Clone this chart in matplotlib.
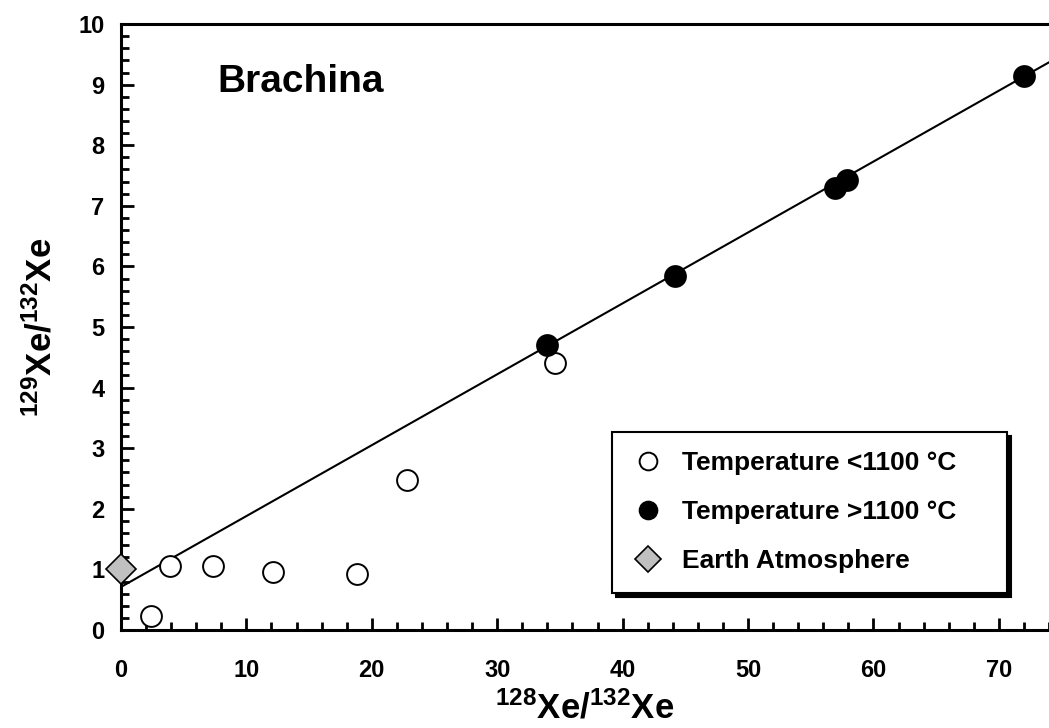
import numpy as np
import matplotlib.pyplot as plt

plt.rcParams['font.family'] = ['Liberation Sans', 'DejaVu Sans']
plt.rcParams['font.weight'] = 'bold'
plt.rcParams['mathtext.fontset'] = 'custom'
plt.rcParams['mathtext.rm'] = 'Liberation Sans:bold'
plt.rcParams['mathtext.default'] = 'rm'

# data
x_low = [2.4, 3.9, 7.3, 12.1, 18.8, 22.8, 34.6]
y_low = [0.23, 1.05, 1.05, 0.95, 0.92, 2.48, 4.40]
x_high = [34.0, 44.2, 56.9, 57.9, 72.0]
y_high = [4.70, 5.85, 7.30, 7.42, 9.15]
x_atm = [0.0]
y_atm = [1.0]
line_x = [0.0, 80.0]
line_icpt = 0.71
line_slope = 0.117

fig = plt.figure(figsize=(10.49, 7.28), dpi=100)
ax = fig.add_axes([0.1153, 0.1346, 0.8847, 0.8324])

lx = np.array(line_x)
ax.plot(lx, line_icpt + line_slope * lx, color='black', lw=1.5, zorder=2)

ax.plot(x_low, y_low, 'o', ms=15, mfc='white', mec='black', mew=1.4,
        label='Temperature <1100 °C', zorder=3)
ax.plot(x_high, y_high, 'o', ms=15, mfc='black', mec='black', mew=1.4,
        label='Temperature >1100 °C', zorder=3)
ax.plot(x_atm, y_atm, 'D', ms=15, mfc='#c0c0c0', mec='black', mew=1.2,
        label='Earth Atmosphere', zorder=4, clip_on=False)

ax.set_xlim(0, 74)
ax.set_ylim(0, 10)
ax.set_xticks(np.arange(0, 80, 10))
ax.set_xticks(np.arange(0, 76, 2), minor=True)
ax.set_yticks(np.arange(0, 11, 1))
ax.set_yticks(np.arange(0, 10.01, 0.2), minor=True)
ax.tick_params(which='both', direction='in', width=2, labelsize=17)
ax.tick_params(which='major', length=9, pad=12)
ax.tick_params(which='minor', length=6)
ax.tick_params(axis='x', pad=21)
for lab in ax.get_xticklabels() + ax.get_yticklabels():
    lab.set_fontweight('bold')

for s in ['left', 'bottom', 'top']:
    ax.spines[s].set_linewidth(2.2)
ax.spines['right'].set_visible(False)

ax.set_xlabel(r'$^{128}$Xe/$^{132}$Xe', fontsize=25, fontweight='bold', labelpad=6)
ax.set_ylabel(r'$^{129}$Xe/$^{132}$Xe', fontsize=25, fontweight='bold', labelpad=14)

ax.text(7.7, 9.04, 'Brachina', fontsize=28, fontweight='bold', va='center')

leg = ax.legend(loc='upper left', bbox_to_anchor=(0.529, 0.061, 0.426, 0.266),
                mode='expand', borderaxespad=0, fontsize=19, markerscale=0.85,
                handlelength=1.3, handletextpad=0.64, labelspacing=0.95,
                borderpad=0.73, fancybox=False, edgecolor='black', framealpha=1,
                shadow={'ox': 3, 'oy': -3, 'color': 'black', 'alpha': 1})
leg.get_frame().set_linewidth(1.5)
for t in leg.get_texts():
    t.set_fontweight('bold')

fig.savefig('out.png', dpi=100)
